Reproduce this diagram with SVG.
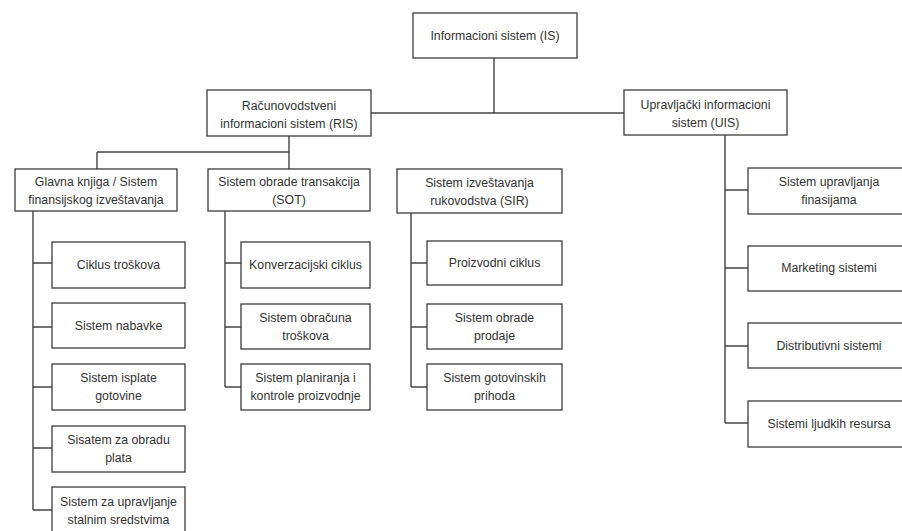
<svg xmlns="http://www.w3.org/2000/svg" width="902" height="531" viewBox="0 0 902 531">
<style>
.box{fill:#ffffff;stroke:#3c3c3c;stroke-width:1.3}
.t{font-family:"Liberation Sans",Arial,sans-serif;font-size:12.3px;fill:#333333;text-anchor:middle}
.c{fill:none;stroke:#444444;stroke-width:1.4}
</style>
<rect width="902" height="531" fill="#ffffff"/>
<g id="connectors">
<path class="c" d="M494 58V113M371 113H624"/>
<path class="c" d="M289 136V169M97 152H289M97 152V169"/>
<path class="c" d="M33 211V510M33 263H52M33 327H52M33 387H52M33 448H52M33 510H52"/>
<path class="c" d="M225 211V387M225 263H241M225 327H241M225 387H241"/>
<path class="c" d="M411 213V387M411 263H427M411 327H427M411 387H427"/>
<path class="c" d="M725 135V423M725 190H748M725 268H748M725 346H748M725 423H748"/>
</g>
<g id="is"><rect class="box" x="413" y="13" width="164" height="45"/><text class="t" x="495" y="40">Informacioni sistem (IS)</text></g>
<g id="ris"><rect class="box" x="207" y="90" width="164" height="46"/><text class="t" x="289" y="109.5">Računovodstveni</text><text class="t" x="289" y="127.5">informacioni sistem (RIS)</text></g>
<g id="uis"><rect class="box" x="624" y="90" width="163" height="45"/><text class="t" x="705.5" y="109">Upravljački informacioni</text><text class="t" x="705.5" y="127">sistem (UIS)</text></g>
<g id="glavna"><rect class="box" x="15" y="169" width="162" height="42"/><text class="t" x="96" y="186">Glavna knjiga / Sistem</text><text class="t" x="96" y="204">finansijskog izveštavanja</text></g>
<g id="sot"><rect class="box" x="208" y="169" width="162" height="42"/><text class="t" x="289" y="186">Sistem obrade transakcija</text><text class="t" x="289" y="204">(SOT)</text></g>
<g id="sir"><rect class="box" x="397" y="169" width="165" height="44"/><text class="t" x="479.5" y="187">Sistem izveštavanja</text><text class="t" x="479.5" y="205">rukovodstva (SIR)</text></g>
<g id="ciklus"><rect class="box" x="52" y="242" width="133" height="46"/><text class="t" x="118.5" y="269">Ciklus troškova</text></g>
<g id="nabavke"><rect class="box" x="52" y="303" width="133" height="45"/><text class="t" x="118.5" y="330">Sistem nabavke</text></g>
<g id="isplate"><rect class="box" x="52" y="364" width="133" height="46"/><text class="t" x="118.5" y="382">Sistem isplate</text><text class="t" x="118.5" y="400">gotovine</text></g>
<g id="plata"><rect class="box" x="52" y="426" width="133" height="46"/><text class="t" x="118.5" y="444">Sisatem za obradu</text><text class="t" x="118.5" y="462">plata</text></g>
<g id="stalnim"><rect class="box" x="52" y="487" width="133" height="50"/><text class="t" x="118.5" y="506">Sistem za upravljanje</text><text class="t" x="118.5" y="524">stalnim sredstvima</text></g>
<g id="konverzacijski"><rect class="box" x="241" y="242" width="129" height="46"/><text class="t" x="305.5" y="269">Konverzacijski ciklus</text></g>
<g id="obracuna"><rect class="box" x="241" y="304" width="129" height="45"/><text class="t" x="305.5" y="322">Sistem obračuna</text><text class="t" x="305.5" y="340">troškova</text></g>
<g id="planiranja"><rect class="box" x="241" y="364" width="129" height="46"/><text class="t" x="305.5" y="382">Sistem planiranja i</text><text class="t" x="305.5" y="400">kontrole proizvodnje</text></g>
<g id="proizvodni"><rect class="box" x="427" y="241" width="135" height="44"/><text class="t" x="494.5" y="267">Proizvodni ciklus</text></g>
<g id="prodaje"><rect class="box" x="427" y="304" width="135" height="45"/><text class="t" x="494.5" y="322">Sistem obrade</text><text class="t" x="494.5" y="340">prodaje</text></g>
<g id="gotovinskih"><rect class="box" x="427" y="364" width="135" height="46"/><text class="t" x="494.5" y="382">Sistem gotovinskih</text><text class="t" x="494.5" y="400">prihoda</text></g>
<g id="finansijama"><rect class="box" x="748" y="168" width="162" height="46"/><text class="t" x="829" y="186">Sistem upravljanja</text><text class="t" x="829" y="204">finasijama</text></g>
<g id="marketing"><rect class="box" x="748" y="246" width="162" height="45"/><text class="t" x="829" y="272">Marketing sistemi</text></g>
<g id="distributivni"><rect class="box" x="748" y="323" width="162" height="45"/><text class="t" x="829" y="350">Distributivni sistemi</text></g>
<g id="ljudskih"><rect class="box" x="748" y="401" width="162" height="46"/><text class="t" x="829" y="428">Sistemi ljudkih resursa</text></g>
</svg>
